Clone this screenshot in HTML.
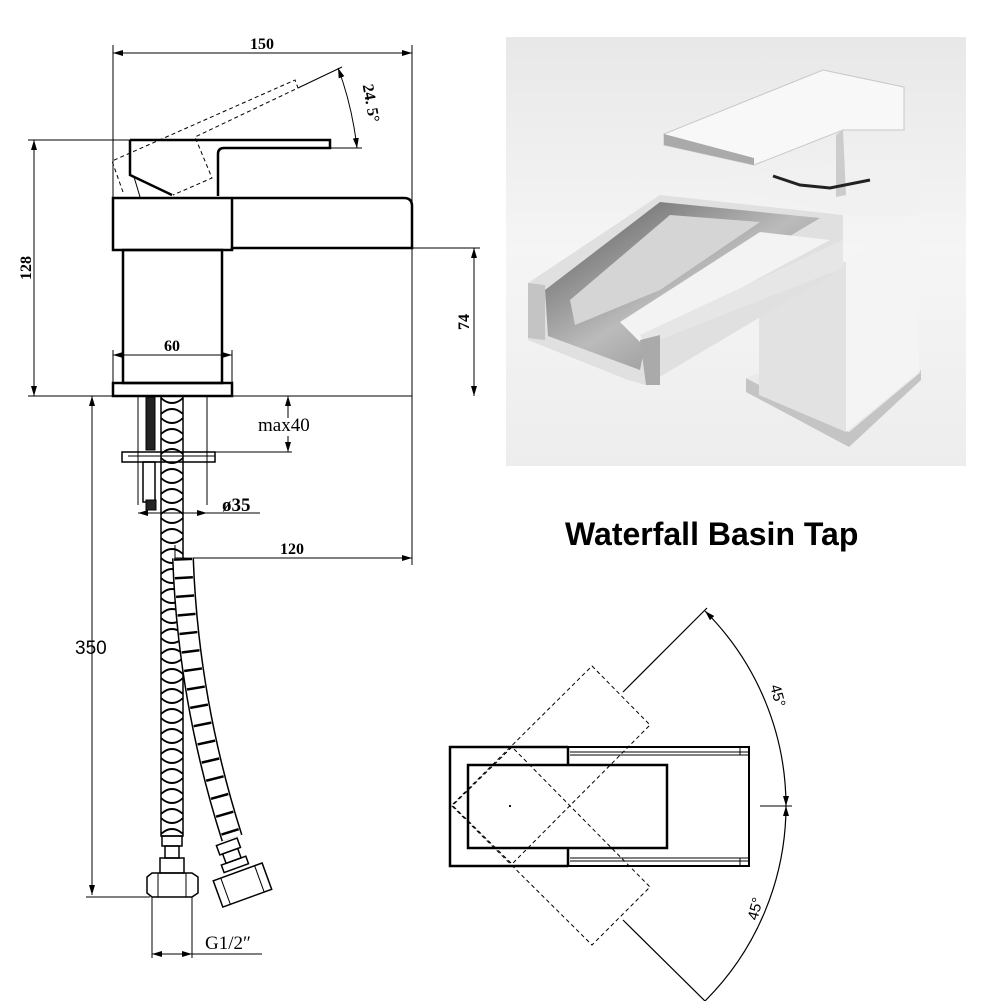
<!DOCTYPE html>
<html><head><meta charset="utf-8"><style>
html,body{margin:0;padding:0;background:#fff;width:1001px;height:1001px;overflow:hidden}
svg{display:block}
text{font-family:"Liberation Serif",serif;fill:#000}
</style></head><body>
<svg width="1001" height="1001" viewBox="0 0 1001 1001" xmlns="http://www.w3.org/2000/svg">
<defs>
<marker id="a" viewBox="0 0 10 6" refX="10" refY="3" markerWidth="10" markerHeight="6" orient="auto-start-reverse" markerUnits="userSpaceOnUse"><path d="M0,0 L10,3 L0,6 z" fill="#000"/></marker>
<pattern id="hx" x="161" y="396" width="22" height="20" patternUnits="userSpaceOnUse">
<path d="M0,2 Q11,12 22,2 M0,18 Q11,8 22,18" stroke="#000" stroke-width="1.8" fill="none"/>
</pattern>
<linearGradient id="bg" x1="0" y1="0" x2="0" y2="1"><stop offset="0" stop-color="#e8e8e8"/><stop offset="0.5" stop-color="#f5f5f5"/><stop offset="1" stop-color="#ededed"/></linearGradient>
<linearGradient id="sp" x1="0" y1="0" x2="1" y2="1"><stop offset="0" stop-color="#555"/><stop offset="0.5" stop-color="#bbb"/><stop offset="1" stop-color="#777"/></linearGradient>
</defs>

<!-- photo -->
<rect x="506" y="37" width="460" height="429" fill="url(#bg)"/>
<polygon points="746,392 849,447 921,380 921,370 849,432 746,378" fill="#c4c4c4"/>
<polygon points="746,378 849,432 921,372 818,350" fill="#eaeaea"/>
<polygon points="759,250 846,262 846,432 759,395" fill="#e2e2e2"/>
<polygon points="846,262 919,215 919,372 846,432" fill="#f4f4f4"/>
<polygon points="733,178 845,162 919,160 919,215 846,215 733,190" fill="#f1f1f1"/>
<polygon points="528,283 660,195 843,215 843,268 646,385 628,380 528,340" fill="#e0e0e0"/>
<polygon points="545,290 660,202 820,218 650,320 640,370 548,336" fill="url(#sp)"/>
<polygon points="570,300 670,215 760,222 660,290 575,325" fill="#d5d5d5"/>
<polygon points="620,322 760,232 830,240 640,342" fill="#f3f3f3"/>
<polygon points="646,345 843,268 843,240 640,335" fill="#e6e6e6"/>
<polygon points="640,340 660,335 660,385 646,385" fill="#aaa"/>
<polygon points="528,283 545,285 545,340 528,338" fill="#c4c4c4"/>
<polygon points="664,134 823,70 904,87 904,130 843,130 754,165 664,145" fill="#f8f8f8" stroke="#c8c8c8"/>
<polygon points="664,134 754,158 754,165 664,145" fill="#aaa"/>
<polygon points="843,130 846,195 836,197 836,135" fill="#ccc"/>
<polyline points="773,176 800,185 830,188 870,180" stroke="#222" stroke-width="3" fill="none"/>

<!-- title -->
<text x="565" y="545" style="font-family:'Liberation Sans',sans-serif;font-weight:bold;font-size:32px">Waterfall Basin Tap</text>

<g stroke="#000" fill="none">
<line x1="113" y1="45" x2="113" y2="198" stroke-width="1"/>
<line x1="412" y1="45" x2="412" y2="565" stroke-width="1"/>
<line x1="113" y1="53" x2="412" y2="53" marker-start="url(#a)" marker-end="url(#a)"/>
<path d="M130,140 H330 V148 H224 Q218,148 218,154 V196 M130,140 V175 L172,195" stroke-width="2.5"/>
<path d="M134,177 Q138,190 140,197" stroke-width="1"/>
<path d="M123,192 L112,161 L295,80 L298,88 L195,137 L212,178 L173,195" stroke-width="1" stroke-dasharray="4,3"/>
<line x1="298" y1="88" x2="342" y2="67" stroke-width="1"/>
<line x1="330" y1="148" x2="362" y2="148" stroke-width="1"/>
<path d="M338,68 Q352,105 357,148" stroke-width="1" marker-start="url(#a)" marker-end="url(#a)"/>
<path d="M113,198 H404 Q412,198 412,206 V248 H232 V250 H113 Z" stroke-width="2.5"/>
<line x1="232" y1="198" x2="232" y2="250" stroke-width="2.5"/>
<rect x="123" y="250" width="99" height="133" stroke-width="2.5"/>
<rect x="113" y="383" width="119" height="13" stroke-width="2.5"/>
<line x1="28" y1="396" x2="412" y2="396" stroke-width="1"/>
<line x1="28" y1="140" x2="130" y2="140" stroke-width="1"/>
<line x1="34" y1="140" x2="34" y2="396" marker-start="url(#a)" marker-end="url(#a)"/>
<line x1="412" y1="248" x2="480" y2="248" stroke-width="1"/>
<line x1="474" y1="248" x2="474" y2="396" marker-start="url(#a)" marker-end="url(#a)"/>
<line x1="113" y1="350" x2="113" y2="383" stroke-width="1"/>
<line x1="232" y1="350" x2="232" y2="383" stroke-width="1"/>
<line x1="113" y1="355" x2="232" y2="355" marker-start="url(#a)" marker-end="url(#a)"/>
<line x1="138" y1="396" x2="138" y2="505" stroke-width="1"/>
<line x1="207" y1="396" x2="207" y2="505" stroke-width="1"/>
<rect x="146" y="397" width="9" height="53" fill="#222" stroke-width="1"/>
<rect x="122" y="452" width="93" height="10" stroke-width="1.5"/>
<line x1="128" y1="456" x2="215" y2="456" stroke-width="1"/>
<rect x="143" y="462" width="12" height="40" stroke-width="1.5"/>
<rect x="146" y="500" width="10" height="10" fill="#222"/>
<line x1="215" y1="452" x2="292" y2="452" stroke-width="1"/>
<line x1="288" y1="396" x2="288" y2="418" marker-start="url(#a)"/>
<line x1="288" y1="436" x2="288" y2="452" marker-end="url(#a)"/>
<line x1="138" y1="513" x2="260" y2="513" stroke-width="1"/>
<line x1="138" y1="513" x2="152" y2="513" marker-start="url(#a)"/>
<line x1="195" y1="513" x2="207" y2="513" marker-end="url(#a)"/>
<line x1="175" y1="558" x2="412" y2="558" marker-end="url(#a)"/>
<line x1="175" y1="545" x2="175" y2="565" stroke-width="1"/>
<line x1="92" y1="396" x2="92" y2="895" marker-start="url(#a)" marker-end="url(#a)"/>
<line x1="86" y1="897" x2="150" y2="897" stroke-width="1"/>
<rect x="161" y="396" width="22" height="440" fill="url(#hx)" stroke-width="1.5"/>
<rect x="162" y="836" width="20" height="10" stroke-width="1.5"/>
<rect x="165" y="846" width="14" height="12" stroke-width="1.5"/>
<rect x="160" y="858" width="24" height="15" stroke-width="1.5"/>
<path d="M147,877 L152,873 H192 L198,877 V893 L192,897 H152 L147,893 Z" stroke-width="1.5"/>
<line x1="158" y1="873" x2="158" y2="897" stroke-width="1"/>
<line x1="186" y1="873" x2="186" y2="897" stroke-width="1"/>
<path d="M183,558 Q188,700 232,838" stroke-width="22"/>
<path d="M183,558 Q188,700 232,838" stroke="#fff" stroke-width="19"/>
<path d="M183,558 Q188,700 232,838" stroke-width="18" stroke-dasharray="2.5,16"/>
<g transform="translate(237,870) rotate(-20)">
<rect x="-11" y="-30" width="22" height="10" stroke-width="1.5"/>
<rect x="-8" y="-20" width="16" height="10" stroke-width="1.5"/>
<rect x="-13" y="-10" width="26" height="8" stroke-width="1.5"/>
<path d="M-26,2 H26 V30 H-26 Z" stroke-width="1.5"/>
<line x1="-18" y1="2" x2="-18" y2="30" stroke-width="1"/>
<line x1="18" y1="2" x2="18" y2="30" stroke-width="1"/>
</g>
<line x1="152" y1="897" x2="152" y2="958" stroke-width="1"/>
<line x1="192" y1="897" x2="192" y2="958" stroke-width="1"/>
<line x1="152" y1="954" x2="262" y2="954" stroke-width="1"/>
<line x1="152" y1="954" x2="172" y2="954" marker-start="url(#a)"/>
<line x1="172" y1="954" x2="192" y2="954" marker-end="url(#a)"/>

<path d="M568,747 H450 V866 H568" stroke-width="2.5"/>
<line x1="568" y1="747" x2="568" y2="765" stroke-width="2.5"/>
<line x1="568" y1="848" x2="568" y2="866" stroke-width="2.5"/>
<rect x="468" y="765" width="199" height="83" stroke-width="2.5"/>
<path d="M568,747 H749 V866 H568" stroke-width="2"/>
<line x1="570" y1="752" x2="749" y2="752" stroke-width="1"/>
<line x1="570" y1="755" x2="749" y2="755" stroke-width="1"/>
<line x1="570" y1="858" x2="749" y2="858" stroke-width="1"/>
<line x1="570" y1="861" x2="749" y2="861" stroke-width="1"/>
<line x1="740" y1="747" x2="740" y2="755" stroke-width="1"/>
<line x1="740" y1="858" x2="740" y2="866" stroke-width="1"/>
<polygon points="592,666 650,725 512,864 452,805" stroke-width="1" stroke-dasharray="4,3"/>
<polygon points="452,806 592,945 650,887 512,747" stroke-width="1" stroke-dasharray="4,3"/>
<line x1="623" y1="692" x2="707" y2="608" stroke-width="1.2"/>
<line x1="623" y1="920" x2="707" y2="1003" stroke-width="1.2"/>
<path d="M705,611 A276,276 0 0 1 786,806" stroke-width="1.2" marker-start="url(#a)" marker-end="url(#a)"/>
<path d="M786,806 A276,276 0 0 1 705,1001" stroke-width="1.2" marker-start="url(#a)"/>
<line x1="760" y1="806" x2="792" y2="806" stroke-width="1"/>
<circle cx="510" cy="806" r="0.6" fill="#000"/>
</g>

<text x="262" y="49" font-size="16" text-anchor="middle" font-weight="bold">150</text>
<text transform="translate(366,104) rotate(80)" font-size="16" text-anchor="middle" font-weight="bold">24. 5°</text>
<text transform="translate(31,268) rotate(-90)" font-size="16" text-anchor="middle" font-weight="bold">128</text>
<text transform="translate(469,322) rotate(-90)" font-size="16" text-anchor="middle" font-weight="bold">74</text>
<text x="172" y="351" font-size="16" text-anchor="middle" font-weight="bold">60</text>
<text x="258" y="431" font-size="19">max40</text>
<text x="222" y="511" font-size="19" font-weight="bold">ø35</text>
<text x="292" y="554" font-size="16" text-anchor="middle" font-weight="bold">120</text>
<text x="75" y="654" font-size="19" style="font-family:'Liberation Sans',sans-serif">350</text>
<text x="205" y="949" font-size="19">G1/2″</text>
<text transform="translate(773,697) rotate(75)" font-size="15" text-anchor="middle" style="font-family:'Liberation Sans',sans-serif">45°</text>
<text transform="translate(760,910) rotate(-75)" font-size="15" text-anchor="middle" style="font-family:'Liberation Sans',sans-serif">45°</text>
</svg>
</body></html>
